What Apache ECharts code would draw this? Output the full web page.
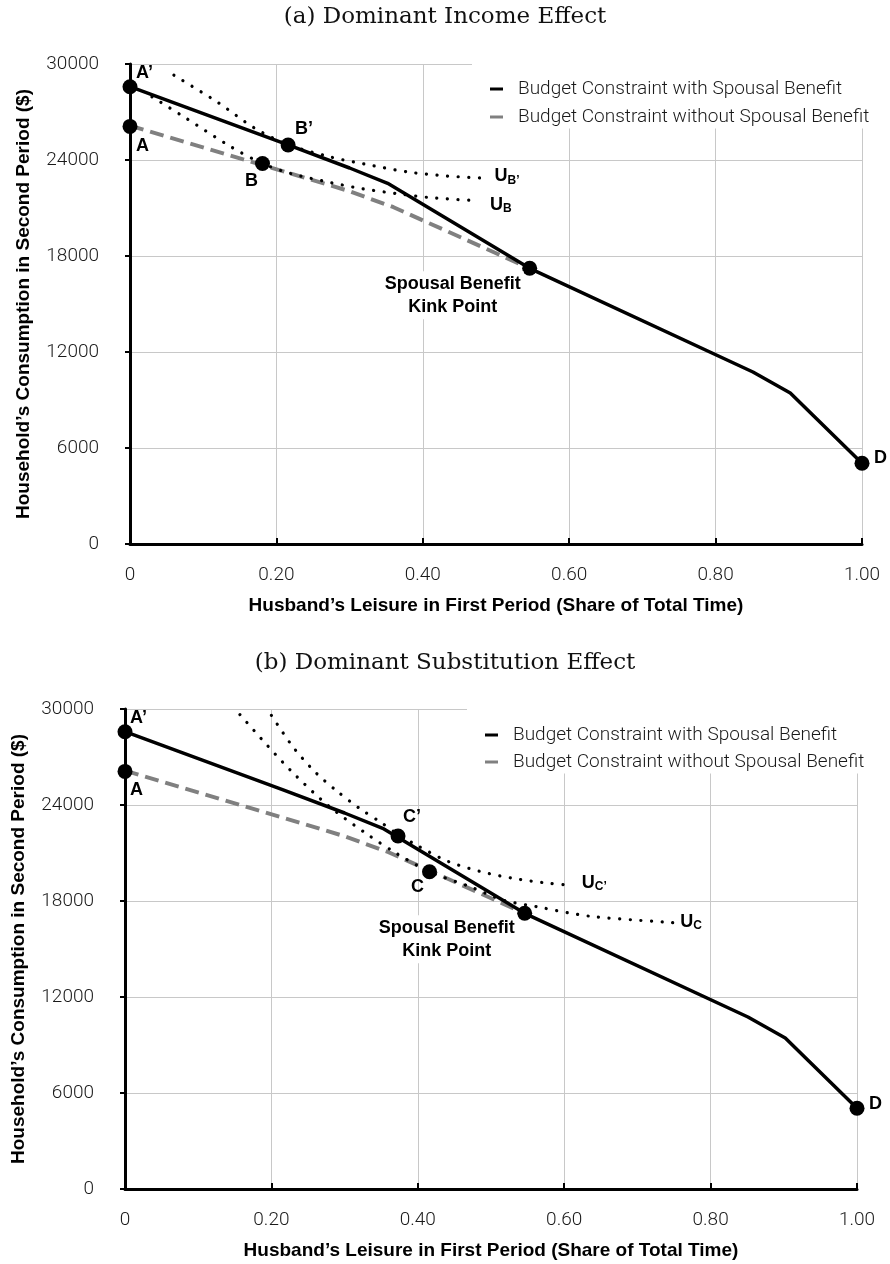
<!DOCTYPE html>
<html><head><meta charset="utf-8">
<script src="https://cdn.jsdelivr.net/npm/echarts@6.0.0/dist/echarts.min.js"></script>
<style>html,body{margin:0;padding:0;background:#fff}#c{width:890px;height:1264px}</style>
</head><body><div id="c"></div>
<script>
// ---------- data ----------
const panelTitles = ['(a) Dominant Income Effect', '(b) Dominant Substitution Effect'];
const xAxisTitle = 'Husband’s Leisure in First Period (Share of Total Time)';
const yAxisTitle = 'Household’s Consumption in Second Period ($)';
const xTickLabels = ['0', '0.20', '0.40', '0.60', '0.80', '1.00'];
const yTickLabels = ['0', '6000', '12000', '18000', '24000', '30000'];
const seriesNames = ['Budget Constraint with Spousal Benefit', 'Budget Constraint without Spousal Benefit'];

const budgetWith = [[0, 28580], [0.216, 24940], [0.30, 23500], [0.352, 22540], [0.546, 17230], [0.851, 10750], [0.902, 9440], [1.0, 5050]];
const budgetWithout = [[0, 26150], [0.30, 22050], [0.36, 21050], [0.546, 17230]];

// panel (a)
const pointsA = [[0, 28580], [0, 26100], [0.216, 24940], [0.181, 23780], [0.546, 17230], [1.0, 5050]];
const pointNamesA = ['A’', 'A', 'B’', 'B', 'Spousal Benefit\nKink Point', 'D'];
const curveUBprime = [[0.06, 29300], [0.12, 27600], [0.17, 26000], [0.216, 24960], [0.273, 24200], [0.32, 23750], [0.38, 23250], [0.433, 23000], [0.487, 22860]];
const curveUB = [[0.03, 27950], [0.077, 26600], [0.137, 24850], [0.181, 23780], [0.22, 23150], [0.273, 22600], [0.318, 22200], [0.364, 21900], [0.41, 21650], [0.474, 21460]];

// panel (b)
const pointsB = [[0, 28580], [0, 26100], [0.373, 22060], [0.416, 19830], [0.546, 17230], [1.0, 5050]];
const pointNamesB = ['A’', 'A', 'C’', 'C', 'Spousal Benefit\nKink Point', 'D'];
const curveUCprime = [[0.2, 29600], [0.23, 27600], [0.26, 26050], [0.29, 24850], [0.32, 23800], [0.35, 22900], [0.373, 22160], [0.40, 21450], [0.44, 20500], [0.485, 19850], [0.53, 19420], [0.576, 19120], [0.605, 19000]];
const curveUC = [[0.157, 29650], [0.19, 27950], [0.228, 26080], [0.278, 23950], [0.33, 22200], [0.37, 21000], [0.416, 19830], [0.471, 18900], [0.517, 18050], [0.563, 17640], [0.635, 17050], [0.749, 16650]];
const curveNames = [['B’', 'B'], ['C’', 'C']];

// ---------- styles / layout ----------
const BOLD = '"Liberation Sans", Arial, Helvetica, sans-serif';
const LIGHT = 'Roboto, "Liberation Sans", sans-serif';
const grids = [
  { left: 130, top: 64, width: 732, height: 480 },
  { left: 125, top: 709, width: 732, height: 480 }
];
const titleTops = [6, 652];
const legendPos = [
  { left: 472, top: 58, padding: [21.5, 12, 2, 18], itemGap: 9 },
  { left: 467, top: 703, padding: [22.5, 12, 2, 18], itemGap: 8 }
];
// [align, dx, dy] relative to dot centre
const labelSpecA = [['left', 6, -14], ['left', 6, 20], ['left', 7, -16], ['center', -11, 18], ['center', -77, 27], ['left', 12, -5]];
const labelSpecB = [['left', 5, -14], ['left', 5, 19], ['left', 5, -19], ['center', -12, 15], ['center', -78, 26], ['left', 12, -4]];
// endLabel [distance, dy]
const uLabelSpec = [[[6, -2], [11, 4]], [[12, -2], [5, -1]]];
const SYM = 15;

function pointData(points, names, spec) {
  return points.map((p, i) => {
    const [align, dx, dy] = spec[i];
    const multi = names[i].indexOf('\n') >= 0;
    return {
      value: p,
      label: {
        show: true, formatter: names[i],
        position: [SYM / 2 + dx, SYM / 2 + dy], align: align, verticalAlign: 'middle',
        fontFamily: BOLD, fontWeight: 'bold', fontSize: 18, color: '#000', opacity: 1,
        lineHeight: multi ? 23 : 20,
        backgroundColor: multi ? '#fff' : 'transparent',
        padding: multi ? [1, 3, 1, 3] : 0
      }
    };
  });
}

function uSeries(gi, data, sub, spec) {
  return {
    type: 'line', name: 'U' + sub, xAxisIndex: gi, yAxisIndex: gi, data: data,
    smooth: 0.3, showSymbol: false, symbol: 'none', z: 4, silent: true,
    lineStyle: { color: '#000', width: 3.2, type: [0.1, 10.5], cap: 'round' },
    endLabel: {
      show: true, distance: spec[0], offset: [0, spec[1]],
      formatter: '{u|U}{s|' + sub + '}',
      backgroundColor: '#fff', padding: [1, 2, 1, 2],
      rich: {
        u: { fontFamily: BOLD, fontWeight: 'bold', fontSize: 18, color: '#000', lineHeight: 20 },
        s: { fontFamily: BOLD, fontWeight: 'bold', fontSize: 12, color: '#000', lineHeight: 20, verticalAlign: 'bottom', padding: [6, 0, 0, 0] }
      }
    }
  };
}

const xAxes = [], yAxes = [], series = [], legends = [], titles = [];
[0, 1].forEach(gi => {
  xAxes.push({
    type: 'value', gridIndex: gi, min: 0, max: 1, interval: 0.2,
    axisLine: { show: true, onZero: false, lineStyle: { color: '#000', width: 3 } },
    axisTick: { show: true, inside: true, length: 6, lineStyle: { color: '#000', width: 2 } },
    axisLabel: { show: true, margin: 22, fontFamily: LIGHT, fontWeight: 300, fontSize: 19, color: '#1a1a1a',
      showMinLabel: true, showMaxLabel: true,
      formatter: v => xTickLabels[Math.round(v / 0.2)] },
    splitLine: { show: true, lineStyle: { color: '#c8c8c8', width: 1 } },
    name: xAxisTitle, nameLocation: 'middle', nameGap: 52,
    nameTextStyle: { fontFamily: BOLD, fontWeight: 'bold', fontSize: 19, color: '#000' }
  });
  yAxes.push({
    type: 'value', gridIndex: gi, min: 0, max: 30000, interval: 6000,
    axisLine: { show: true, onZero: false, lineStyle: { color: '#000', width: 3 } },
    axisTick: { show: true, inside: false, length: 5, lineStyle: { color: '#000', width: 2 } },
    axisLabel: { show: true, margin: 31, fontFamily: LIGHT, fontWeight: 300, fontSize: 19, color: '#1a1a1a',
      showMinLabel: true, showMaxLabel: true,
      formatter: v => yTickLabels[Math.round(v / 6000)] },
    splitLine: { show: true, lineStyle: { color: '#c8c8c8', width: 1 } },
    name: yAxisTitle, nameLocation: 'middle', nameGap: 97, nameRotate: 90,
    nameTextStyle: { fontFamily: BOLD, fontWeight: 'bold', fontSize: 19, color: '#000' }
  });
  series.push({
    type: 'line', name: seriesNames[1], xAxisIndex: gi, yAxisIndex: gi, data: budgetWithout,
    showSymbol: false, symbol: 'none', z: 2, color: '#808080', silent: true,
    lineStyle: { color: '#808080', width: 4, type: [14, 7] }
  });
  series.push({
    type: 'line', name: seriesNames[0], xAxisIndex: gi, yAxisIndex: gi, data: budgetWith,
    showSymbol: false, symbol: 'none', z: 3, color: '#000', silent: true,
    lineStyle: { color: '#000', width: 3.5 }
  });
  const curves = gi === 0 ? [curveUBprime, curveUB] : [curveUCprime, curveUC];
  series.push(uSeries(gi, curves[0], curveNames[gi][0], uLabelSpec[gi][0]));
  series.push(uSeries(gi, curves[1], curveNames[gi][1], uLabelSpec[gi][1]));
  series.push({
    type: 'scatter', name: 'points' + gi, xAxisIndex: gi, yAxisIndex: gi,
    symbol: 'circle', symbolSize: SYM, z: 6, silent: true,
    itemStyle: { color: '#000', opacity: 1 },
    data: gi === 0 ? pointData(pointsA, pointNamesA, labelSpecA) : pointData(pointsB, pointNamesB, labelSpecB)
  });
  legends.push({
    data: seriesNames, orient: 'vertical', left: legendPos[gi].left, top: legendPos[gi].top,
    padding: legendPos[gi].padding, itemGap: legendPos[gi].itemGap,
    backgroundColor: '#fff', selectedMode: false,
    icon: 'rect', itemWidth: 13, itemHeight: 3,
    itemStyle: { borderWidth: 0 },
    textStyle: { fontFamily: LIGHT, fontWeight: 300, fontSize: 19, color: '#1a1a1a', lineHeight: 19, padding: [0, 0, 0, 10] }
  });
  titles.push({
    text: panelTitles[gi], left: 'center', top: titleTops[gi], padding: 0,
    textStyle: { fontFamily: '"DejaVu Serif", "Liberation Serif", serif', fontWeight: 'normal', fontSize: 23, color: '#111' }
  });
});

const chart = echarts.init(document.getElementById('c'), null, { renderer: 'canvas' });
chart.setOption({
  animation: false,
  backgroundColor: '#fff',
  title: titles,
  legend: legends,
  grid: grids.map(g => Object.assign({ containLabel: false, outerBoundsMode: 'none' }, g)),
  xAxis: xAxes,
  yAxis: yAxes,
  series: series
});
</script>
</body></html>
